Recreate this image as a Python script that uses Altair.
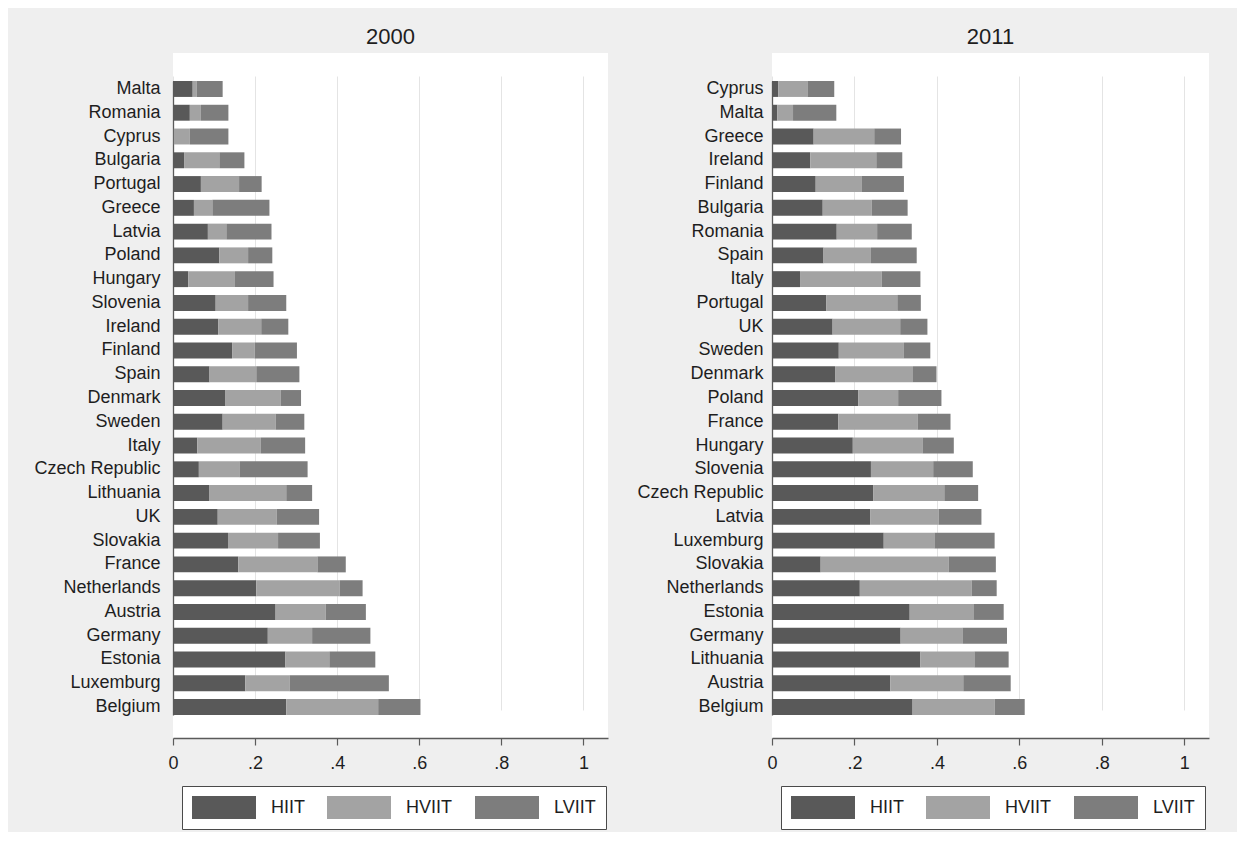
import altair as alt
import pandas as pd

# ---- data ----
types = ["HIIT", "HVIIT", "LVIIT"]
colors = ["#595959", "#a3a3a3", "#7d7d7d"]

countries_2000 = ["Malta", "Romania", "Cyprus", "Bulgaria", "Portugal", "Greece", "Latvia",
                  "Poland", "Hungary", "Slovenia", "Ireland", "Finland", "Spain", "Denmark",
                  "Sweden", "Italy", "Czech Republic", "Lithuania", "UK", "Slovakia", "France",
                  "Netherlands", "Austria", "Germany", "Estonia", "Luxemburg", "Belgium"]
hiit_2000 = [0.048, 0.041, 0.002, 0.027, 0.068, 0.051, 0.085, 0.113, 0.037, 0.104, 0.110, 0.144,
             0.089, 0.128, 0.121, 0.059, 0.063, 0.089, 0.109, 0.134, 0.159, 0.203, 0.250, 0.231,
             0.274, 0.176, 0.276]
hviit_2000 = [0.010, 0.027, 0.039, 0.086, 0.093, 0.045, 0.045, 0.070, 0.114, 0.079, 0.105, 0.055,
              0.114, 0.134, 0.129, 0.155, 0.099, 0.187, 0.144, 0.122, 0.193, 0.203, 0.122, 0.108,
              0.107, 0.108, 0.224]
lviit_2000 = [0.063, 0.067, 0.094, 0.061, 0.055, 0.139, 0.110, 0.059, 0.094, 0.093, 0.066, 0.103,
              0.105, 0.050, 0.070, 0.108, 0.166, 0.063, 0.103, 0.102, 0.069, 0.056, 0.098, 0.142,
              0.112, 0.242, 0.103]

countries_2011 = ["Cyprus", "Malta", "Greece", "Ireland", "Finland", "Bulgaria", "Romania", "Spain",
                  "Italy", "Portugal", "UK", "Sweden", "Denmark", "Poland", "France", "Hungary",
                  "Slovenia", "Czech Republic", "Latvia", "Luxemburg", "Slovakia", "Netherlands",
                  "Estonia", "Germany", "Lithuania", "Austria", "Belgium"]
hiit_2011 = [0.015, 0.013, 0.101, 0.093, 0.106, 0.123, 0.157, 0.125, 0.068, 0.132, 0.147, 0.162,
             0.153, 0.209, 0.161, 0.196, 0.240, 0.246, 0.238, 0.271, 0.118, 0.213, 0.334, 0.312,
             0.360, 0.287, 0.341]
hviit_2011 = [0.071, 0.038, 0.147, 0.160, 0.111, 0.119, 0.098, 0.115, 0.198, 0.172, 0.164, 0.158,
              0.189, 0.097, 0.192, 0.169, 0.151, 0.172, 0.166, 0.123, 0.311, 0.271, 0.156, 0.150,
              0.131, 0.177, 0.199]
lviit_2011 = [0.065, 0.105, 0.065, 0.063, 0.103, 0.087, 0.084, 0.111, 0.094, 0.057, 0.066, 0.064,
              0.057, 0.105, 0.080, 0.076, 0.096, 0.082, 0.104, 0.146, 0.114, 0.061, 0.072, 0.108,
              0.083, 0.115, 0.073]

x_ticks = [0, 0.2, 0.4, 0.6, 0.8, 1.0]

FONT = "Liberation Sans"
TXT = "#1e1e1e"


def make_df(countries, h, hv, lv):
    rows = []
    for c, a, b, d in zip(countries, h, hv, lv):
        for i, (t, v) in enumerate(zip(types, [a, b, d])):
            rows.append({"country": c, "type": t, "value": v, "ord": i})
    return pd.DataFrame(rows)


def panel(df, countries, title, width, label_pad):
    return alt.Chart(df, title=alt.TitleParams(
        title, fontSize=22, font=FONT, fontWeight="normal", color=TXT,
        anchor="middle", frame="group", offset=4)
    ).mark_bar().encode(
        x=alt.X("value:Q", stack="zero",
                scale=alt.Scale(domain=[0, 1.06], nice=False, zero=True),
                axis=alt.Axis(values=x_ticks, title=None, grid=True,
                              labelExpr="datum.value == 0 ? '0' : datum.value == 1 ? '1' : replace(format(datum.value, '.1f'), '0.', '.')",
                              gridColor="#e4e4e4", gridWidth=1,
                              domainColor="#5a5a5a", domainWidth=1.3,
                              tickColor="#5a5a5a", tickSize=7, tickWidth=1.2,
                              labelFontSize=18, labelFont=FONT, labelColor=TXT,
                              labelPadding=9, labelFlush=False)),
        y=alt.Y("country:N", sort=countries,
                scale=alt.Scale(paddingInner=0.33, paddingOuter=0, range=[28, 662]),
                axis=alt.Axis(title=None, ticks=False, grid=False,
                              domainColor="#5a5a5a", domainWidth=1.3,
                              labelFontSize=18, labelFont=FONT, labelColor=TXT,
                              labelPadding=label_pad, minExtent=140, maxExtent=140)),
        color=alt.Color("type:N", scale=alt.Scale(domain=types, range=colors),
                        legend=alt.Legend(
                            title=None, orient="none", legendX=9, legendY=733,
                            direction="horizontal", columns=3, columnPadding=22,
                            symbolType="M-1,-1H4.565V1H-1Z", symbolSize=529,
                            symbolStrokeWidth=0, symbolOpacity=1,
                            labelOffset=56, labelFontSize=18, labelFont=FONT,
                            labelColor=TXT, padding=10, fillColor="white",
                            strokeColor="#4a4a4a")),
        order=alt.Order("ord:Q"),
    ).properties(width=width, height=685)


left = panel(make_df(countries_2000, hiit_2000, hviit_2000, lviit_2000), countries_2000, "2000", 435, 13)
right = panel(make_df(countries_2011, hiit_2011, hviit_2011, lviit_2011), countries_2011, "2011", 437, 9)

chart = alt.hconcat(left, right, spacing=24).resolve_scale(
    y="independent", color="independent"
).resolve_legend(color="independent").properties(
    background="#efefef",
    padding={"left": 25, "top": 18, "right": 28, "bottom": 2},
).configure_view(fill="white", stroke=None)

chart.save("out.html", embed_options={"renderer": "svg", "actions": False})
